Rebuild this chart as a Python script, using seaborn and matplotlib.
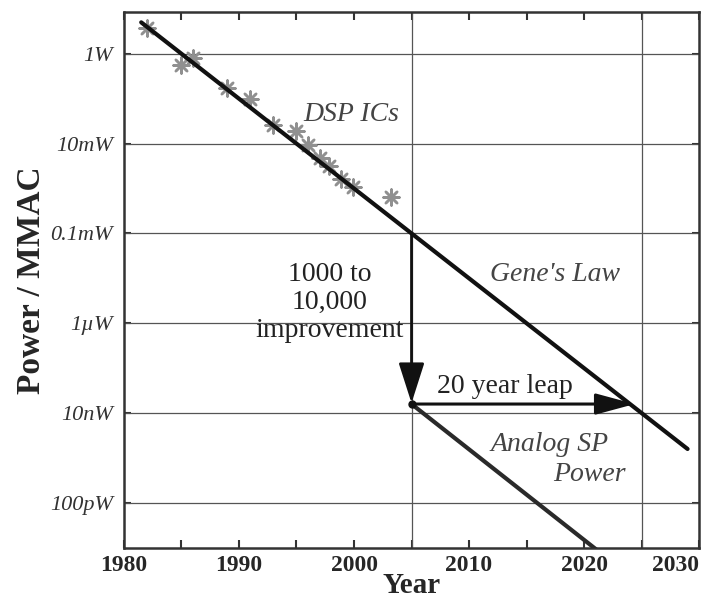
import matplotlib
matplotlib.use("Agg")
import matplotlib.pyplot as plt
import seaborn as sns
import pandas as pd

# --- data ---
dsp_years = [1982.0, 1985.0, 1986.0, 1989.0, 1991.0, 1993.0, 1995.0, 1996.0, 1997.0, 1997.8, 1998.9, 1999.9, 2003.2]
dsp_power = [3.8, 0.57, 0.8, 0.17, 0.10, 0.026, 0.019, 0.0095, 0.0049, 0.0031, 0.0016, 0.0011, 0.00066]

genes_years = [1981.5, 2029.0]
genes_power = [5.0, 1.6e-9]

analog_years = [2005.0, 2022.0]
analog_power = [1.6e-8, 6.0e-12]

ytick_vals = [1.0, 1e-2, 1e-4, 1e-6, 1e-8, 1e-10]
ytick_labels = ["1W", "10mW", "0.1mW", "1\u00b5W", "10nW", "100pW"]
xtick_vals = [1980, 1990, 2000, 2010, 2020, 2030]

sns.set_style("white")
plt.rcParams['font.family'] = ['Liberation Serif', 'DejaVu Serif']

fig = plt.figure(figsize=(7.1, 5.98), dpi=100)
ax = fig.add_axes([0.1746, 0.0836, 0.81, 0.8964])

ax.set_yscale('log')
ax.set_xlim(1980, 2030)
ax.set_ylim(1e-11, 10 ** 0.93)

# grid
for yv in ytick_vals:
    ax.axhline(yv, color='#555555', lw=0.9, zorder=1)
for xv in [2005, 2025]:
    ax.axvline(xv, color='#555555', lw=0.9, zorder=1)

# DSP points
df_dsp = pd.DataFrame({'year': dsp_years, 'power': dsp_power})
sns.scatterplot(data=df_dsp, x='year', y='power', ax=ax, marker=(8, 2, 0), s=130,
                color='#909090', linewidth=1.8, edgecolor='#909090', zorder=3, legend=False)

# Gene's law
df_g = pd.DataFrame({'year': genes_years, 'power': genes_power})
sns.lineplot(data=df_g, x='year', y='power', ax=ax, color='#111111', lw=3.0, zorder=4,
             solid_capstyle='round')

# Analog SP
df_a = pd.DataFrame({'year': analog_years, 'power': analog_power})
sns.lineplot(data=df_a, x='year', y='power', ax=ax, color='#2a2a2a', lw=3.0, zorder=4,
             solid_capstyle='round')

# arrows
leap_y = analog_power[0]
ax.annotate('', xy=(2005, leap_y * 1.05), xytext=(2005, 1e-4),
            arrowprops=dict(arrowstyle='-|>,head_length=2.5,head_width=0.8', color='#111111', lw=2.0,
                            shrinkA=0, shrinkB=0), zorder=5)
ax.annotate('', xy=(2024.4, leap_y), xytext=(2005, leap_y),
            arrowprops=dict(arrowstyle='-|>,head_length=2.4,head_width=0.65', color='#111111', lw=2.2,
                            shrinkA=0, shrinkB=0), zorder=5)
ax.plot([2005], [leap_y], 'o', color='#111111', ms=5, zorder=6)

# texts
ax.text(1999.8, 10 ** -1.36, "DSP ICs", fontsize=20, style='italic', color='#444444',
        ha='center', va='center')
ax.text(2017.5, 10 ** -4.91, "Gene's Law", fontsize=20, style='italic', color='#444444',
        ha='center', va='center')
ax.text(1997.9, 10 ** -5.53, "1000 to\n10,000\nimprovement", fontsize=20, color='#222222',
        ha='center', va='center', linespacing=1.15)
ax.text(2013.1, 10 ** -7.4, "20 year leap", fontsize=20, color='#222222',
        ha='center', va='center')
ax.text(2017.0, 10 ** -8.69, "Analog SP", fontsize=20, style='italic', color='#444444',
        ha='center', va='center')
ax.text(2020.5, 10 ** -9.36, "Power", fontsize=20, style='italic', color='#444444',
        ha='center', va='center')

# ticks
ax.set_yticks(ytick_vals)
ax.set_yticklabels(ytick_labels)
ax.minorticks_off()
ax.set_xticks(xtick_vals)
ax.set_xticks([1985, 1995, 2005, 2015, 2025], minor=True)
ax.tick_params(axis='x', which='both', direction='in', top=True, bottom=True, length=6, width=1.5,
               labelsize=17, pad=5, color='#333333')
ax.tick_params(axis='y', which='major', direction='in', left=True, right=True, length=5, width=1.5,
               labelsize=16, pad=8, color='#333333')
xlabs = ax.get_xticklabels()
for lab in xlabs:
    lab.set_fontweight('bold')
xlabs[-1].set_horizontalalignment('right')
for lab in ax.get_yticklabels():
    lab.set_fontstyle('italic')
    lab.set_color('#333333')

ax.set_xlabel("Year", fontsize=21, fontweight='bold', labelpad=-3)
ax.set_ylabel("Power / MMAC", fontsize=24, fontweight='bold', labelpad=2)

for sp in ax.spines.values():
    sp.set_linewidth(1.8)
    sp.set_color('#333333')
    sp.set_visible(True)

fig.savefig("out.png", dpi=100)
